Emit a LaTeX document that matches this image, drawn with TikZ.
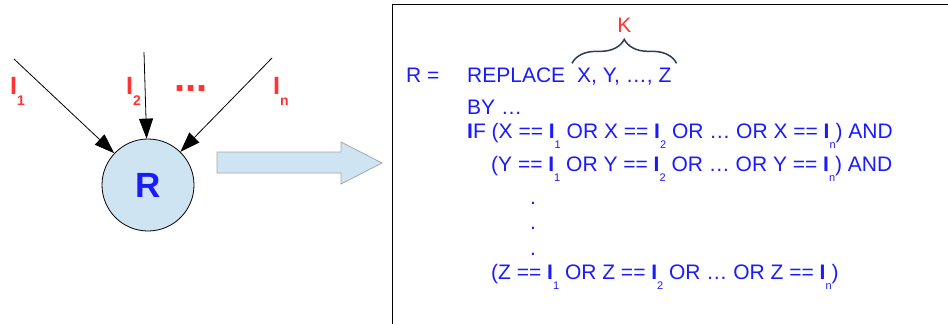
\documentclass[tikz,border=0pt]{standalone}
\usepackage{fontspec}
\setmainfont{Liberation Sans}
\usetikzlibrary{arrows.meta,positioning,decorations.pathreplacing}

\definecolor{codeblue}{HTML}{1A1AFF}
\definecolor{inred}{HTML}{FF3333}
\definecolor{nodefill}{HTML}{CFE4F3}
\definecolor{bracecol}{HTML}{2B3D57}

% input label with bold subscript (left side)
\newcommand{\inI}[1]{\textbf{I}\raisebox{-11pt}{\fontsize{14}{16}\selectfont\bfseries #1}}
% I with small subscript (right side)
\newcommand{\cI}[1]{\textbf{I}\raisebox{-10pt}{\fontsize{11}{13}\selectfont #1}}

\begin{document}
\begin{tikzpicture}[
    x=1pt,
    y=-1pt,
    code/.style={anchor=base west, inner sep=0pt, text=codeblue,
        font=\fontsize{21}{25}\selectfont},
    inlabel/.style={anchor=base west, inner sep=0pt, text=inred,
        font=\fontsize{25}{30}\selectfont},
    feed/.style={-{Triangle[length=20pt,width=14pt]}, line width=0.8pt},
    rnode/.style={circle, draw, line width=0.8pt, fill=nodefill,
        minimum size=92pt, inner sep=0pt, text=codeblue,
        font=\fontsize{35}{40}\selectfont\bfseries},
    bigarrow/.style={fill=nodefill, draw=gray!70, line width=0.8pt},
    kbrace/.style={decorate, decoration={brace, amplitude=24pt},
        draw=bracecol, line width=1.5pt}
]
\useasboundingbox (0,0) rectangle (948,324);

% 1. Left part: node R and its inputs
\node[rnode] (R) at (148,185) {R};

\coordinate (s1) at (14,59);
\coordinate (s2) at (144,52);
\coordinate (s3) at (272,58);
\draw[feed] (s1) -- (R);
\draw[feed] (s2) -- (R);
\draw[feed] (s3) -- (R);

\node[inlabel] (l1) at (10,94) {\inI{1}};
\node[inlabel] (l2) at (126,94) {\inI{2}};
\node[inlabel, font=\fontsize{40}{44}\selectfont\bfseries] (more) at (174,91) {...};
\node[inlabel] (ln) at (273,94) {\inI{n}};

% 2. Block arrow
\draw[bigarrow] (217,152) -- (341,152) -- (341,142) -- (382,163)
    -- (341,184) -- (341,173) -- (217,173) -- cycle;

% 3. Frame of the rewritten rule
\draw[line width=1pt] (392,324) -- (392,4) -- (948,4);

% 4. Rule text
\node[code] (req) at (406,82) {R =};
\node[code] (repl) at (467,82) {REPLACE};
\node[code] (vars) at (577,82) {X, Y, …, Z};
\draw[kbrace] ([xshift=-5pt,yshift=4pt]vars.north west)
    -- ([xshift=5pt,yshift=4pt]vars.north east);
\node[above=35pt of vars.north, inner sep=0pt, text=inred,
    font=\fontsize{21}{25}\selectfont] (k) {K};

\node[code] (by) at (467,114) {BY …};
\node[code] (condx) at (467,138)
    {\textbf{I}F (X == \cI{1} OR X == \cI{2} OR … OR X == \cI{n}) AND};
\node[code] (condy) at (491,171)
    {(Y == \cI{1} OR Y == \cI{2} OR … OR Y == \cI{n}) AND};
\node[code] (d1) at (530,204) {.};
\node[code] (d2) at (530,229) {.};
\node[code] (d3) at (530,255) {.};
\node[code] (condz) at (491,279)
    {(Z == \cI{1} OR Z == \cI{2} OR … OR Z == \cI{n})};

\end{tikzpicture}
\end{document}
